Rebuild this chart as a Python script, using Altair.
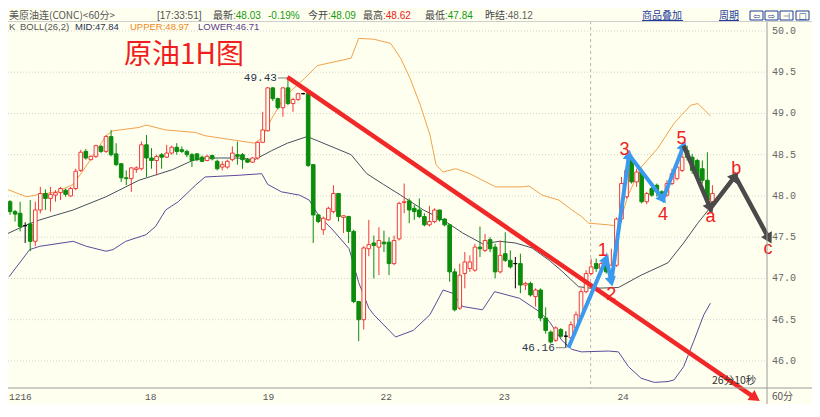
import math
import altair as alt
import pandas as pd

# ---------------- data ----------------
opens = [47.93,47.81,47.79,47.64,47.66,47.45,47.83,48.03,47.97,48.01,
         48.04,48.07,48.00,48.09,48.31,48.54,48.44,48.48,48.60,48.54,
         48.72,48.51,48.39,48.22,48.21,48.32,48.33,48.62,48.46,48.43,
         48.50,48.47,48.52,48.59,48.56,48.54,48.50,48.51,48.47,48.43,
         48.49,48.42,48.35,48.35,48.44,48.50,48.50,48.44,48.41,48.46,
         48.65,48.79,49.31,49.18,49.07,49.31,49.12,49.17,49.24,49.24,
         48.38,47.77,47.59,47.71,47.81,48.03,47.74,47.75,47.57,46.72,
         46.50,47.36,47.43,47.38,47.44,47.44,47.18,47.48,47.92,47.94,
         47.85,47.83,47.75,47.65,47.69,47.83,47.72,47.65,47.08,46.64,
         47.06,47.12,47.10,47.38,47.34,47.47,47.38,47.08,47.30,47.22,
         47.18,47.18,46.92,46.94,46.78,46.86,46.52,46.35,46.25,46.38,
         46.30,46.28,46.40,46.54,46.84,47.06,47.18,47.12,47.16,47.10,
         47.16,47.72,47.99,48.43,48.17,48.29,47.93,48.09,48.13,48.05,
         48.01,48.15,48.21,48.31,48.55,48.47,48.43,48.33,48.19,47.93]
highs = [47.95,47.83,47.93,47.68,47.95,47.93,48.11,48.08,48.11,48.07,
         48.11,48.09,48.11,48.33,48.56,48.57,48.49,48.62,48.62,48.74,
         48.80,48.64,48.40,48.31,48.35,48.36,48.66,48.74,48.58,48.50,
         48.52,48.62,48.61,48.64,48.60,48.56,48.52,48.52,48.49,48.50,
         48.50,48.44,48.42,48.44,48.60,48.66,48.52,48.46,48.47,48.66,
         49.02,49.32,49.32,49.19,49.32,49.43,49.19,49.25,49.25,49.25,
         48.38,47.78,47.75,47.87,48.13,48.03,47.76,47.76,47.59,46.72,
         47.39,47.71,47.52,47.62,47.58,47.50,47.52,47.93,48.15,47.97,
         47.89,47.97,47.79,47.88,47.85,47.83,47.73,47.65,47.12,47.18,
         47.32,47.28,47.42,47.63,47.54,47.50,47.42,47.46,47.56,47.34,
         47.26,47.30,46.96,46.96,46.88,46.88,46.65,46.37,46.42,46.40,
         46.36,46.48,46.60,46.88,47.10,47.24,47.24,47.20,47.20,47.36,
         47.74,48.23,48.35,48.49,48.33,48.33,48.05,48.12,48.15,48.07,
         48.19,48.33,48.37,48.59,48.61,48.51,48.45,48.43,48.53,48.13]
lows = [47.77,47.69,47.57,47.43,47.33,47.39,47.79,47.83,47.81,47.93,
        47.95,47.99,47.99,48.07,48.29,48.44,48.43,48.46,48.52,48.52,
        48.48,48.36,48.17,48.13,48.05,48.28,48.31,48.23,48.33,48.25,
        48.33,48.46,48.50,48.50,48.52,48.47,48.35,48.42,48.41,48.42,
        48.43,48.31,48.31,48.33,48.42,48.38,48.33,48.40,48.40,48.44,
        48.64,48.78,49.15,49.05,48.96,49.10,49.02,49.15,49.23,48.35,
        47.43,47.67,47.53,47.70,47.79,47.69,47.55,47.43,46.70,46.24,
        46.38,47.27,47.00,47.04,47.32,47.04,47.16,47.46,47.79,47.67,
        47.71,47.73,47.63,47.63,47.67,47.69,47.63,46.96,46.60,46.62,
        46.88,47.08,47.08,47.26,47.32,47.32,47.00,47.06,47.20,47.12,
        46.88,46.82,46.86,46.78,46.66,46.48,46.33,46.21,46.23,46.28,
        46.16,46.24,46.36,46.52,46.82,47.04,47.08,47.08,47.06,47.08,
        47.14,47.68,47.97,48.15,48.11,47.91,47.90,47.99,47.99,47.97,
        47.99,48.13,48.19,48.29,48.43,48.27,48.21,48.15,47.93,47.89]
closes = [47.81,47.78,47.63,47.64,47.45,47.83,48.03,47.97,48.02,48.04,
          48.09,48.02,48.09,48.30,48.53,48.46,48.48,48.61,48.54,48.72,
          48.50,48.38,48.22,48.21,48.34,48.34,48.62,48.46,48.43,48.48,
          48.47,48.52,48.59,48.54,48.54,48.50,48.43,48.44,48.42,48.48,
          48.45,48.33,48.38,48.42,48.52,48.48,48.44,48.41,48.46,48.65,
          48.80,49.31,49.18,49.07,49.31,49.12,49.17,49.24,49.24,48.37,
          47.77,47.69,47.73,47.85,48.03,47.75,47.76,47.57,46.72,46.50,
          47.37,47.41,47.40,47.46,47.42,47.18,47.46,47.91,47.93,47.83,
          47.81,47.75,47.65,47.69,47.83,47.71,47.65,47.08,46.62,47.04,
          47.20,47.20,47.38,47.36,47.46,47.36,47.08,47.28,47.22,47.14,
          47.18,46.92,46.94,46.80,46.86,46.52,46.37,46.23,46.40,46.30,
          46.30,46.44,46.56,46.84,47.06,47.14,47.12,47.18,47.08,47.16,
          47.72,48.15,48.31,48.17,48.29,47.93,48.03,48.01,48.05,47.99,
          48.15,48.27,48.35,48.47,48.47,48.31,48.23,48.19,47.95,48.03]

mid_i = [-0.6, 3.3, 5.9, 12.5, 19.0, 25.5, 32.2, 36.1, 38.6, 45.1,
         48.4, 51.8, 54.9, 58.8, 60.8, 67.5, 70.6, 73.9, 77.3, 81.8,
         85.7, 89.6, 93.5, 96.9, 100.0, 103.3, 106.7, 109.2, 112.5, 115.1,
         120.4, 124.9, 130.2, 133.3, 136.1, 138.6]
mid_v = [47.54, 47.65, 47.71, 47.83, 47.99, 48.19, 48.32, 48.43, 48.46, 48.46,
         48.44, 48.55, 48.64, 48.72, 48.67, 48.50, 48.27, 48.14, 48.01, 47.83,
         47.71, 47.55, 47.42, 47.45, 47.43, 47.37, 47.22, 47.09, 46.90, 46.88,
         46.89, 47.04, 47.19, 47.43, 47.67, 47.86]
upper_i = [-0.6, 3.3, 5.9, 9.2, 12.5, 14.5, 17.1, 19.0, 20.4, 25.5,
           26.9, 30.8, 36.7, 38.6, 45.1, 48.4, 49.8, 51.8, 54.3, 58.2,
           60.8, 67.5, 69.0, 72.0, 75.3, 77.3, 79.2, 81.2, 83.1, 84.3,
           85.7, 88.2, 91.0, 93.5, 96.1, 101.4, 102.7, 105.3, 108.6, 111.2,
           113.1, 114.5, 118.4, 119.6, 121.0, 122.4, 124.9, 128.2, 131.4, 134.7,
           136.1, 138.6]
upper_v = [48.08, 47.99, 48.02, 48.05, 48.14, 48.31, 48.55, 48.73, 48.79, 48.83,
           48.86, 48.80, 48.77, 48.73, 48.67, 48.64, 48.70, 48.94, 49.20, 49.42,
           49.58, 49.67, 49.91, 49.90, 49.85, 49.67, 49.42, 49.10, 48.74, 48.38,
           48.29, 48.33, 48.27, 48.19, 48.11, 48.11, 48.12, 48.01, 47.95, 47.83,
           47.75, 47.67, 47.65, 47.64, 47.75, 48.02, 48.35, 48.58, 48.88, 49.10,
           49.12, 48.97]
lower_i = [-0.2, 3.9, 5.9, 12.5, 15.1, 19.0, 20.4, 22.9, 26.9, 28.8,
           30.8, 33.3, 36.7, 38.6, 45.1, 49.8, 51.0, 53.7, 57.3, 59.2,
           61.2, 63.7, 67.1, 69.0, 71.0, 72.0, 76.3, 79.8, 83.1, 85.7,
           87.6, 89.6, 93.5, 95.9, 100.8, 104.7, 106.7, 109.2, 111.2, 113.1,
           118.4, 120.4, 122.4, 124.9, 127.5, 130.2, 131.4, 133.3, 135.3, 137.3,
           138.6]
lower_v = [47.02, 47.35, 47.39, 47.45, 47.39, 47.33, 47.35, 47.45, 47.53, 47.63,
           47.83, 47.93, 48.13, 48.23, 48.25, 48.27, 48.14, 48.05, 48.01, 47.95,
           47.75, 47.60, 47.36, 46.95, 46.64, 46.56, 46.29, 46.37, 46.56, 46.86,
           46.82, 46.66, 46.62, 46.84, 46.76, 46.60, 46.48, 46.25, 46.14, 46.11,
           46.12, 46.11, 45.93, 45.79, 45.74, 45.75, 45.77, 45.93, 46.24, 46.56,
           46.70]

price_ticks = [46.0, 46.5, 47.0, 47.5, 48.0, 48.5, 49.0, 49.5, 50.0]
day_labels = ["1216", "18", "19", "22", "23", "24"]
day_pos = [-0.2, 26.7, 50.0, 73.3, 96.7, 120.2]
session_pos = [114.9]

extreme_text = ["49.43", "46.16"]
extreme_i = [55, 110]
extreme_v = [49.43, 46.16]

trend_i = [54.9, 147.5]
trend_v = [49.44, 45.55]
wave_i = [110.5, 118.0, 119.0, 122.5, 129.2, 133.3]
wave_v = [46.16, 47.24, 46.96, 48.50, 47.96, 48.61]
proj_i = [133.3, 138.6, 143.5, 150.2]
proj_v = [48.61, 47.85, 48.24, 47.48]
wave_names = ["1", "2", "3", "4", "5", "a", "b", "c"]
wave_name_i = [117.3, 119.0, 121.6, 129.2, 132.9, 138.6, 143.7, 150.0]
wave_name_v = [47.33, 46.80, 48.56, 47.77, 48.69, 47.75, 48.33, 47.36]

# ---------------- layout / style ----------------
W, H = 759, 361
PAD = {"left": 0, "top": 19, "right": 45, "bottom": 16}
TOTAL_W = W + PAD["right"]
X_DOM = [-0.4, 149.8]
Y_DOM = [45.672, 50.048]
BG = "#fffff0"
RED = "#f03a3a"
GREEN = "#0c8c0c"
BLUE = "#3a9af0"
DARK = "#4a4a4a"
LINK = "#1f3c9c"
CJK = "Noto Sans CJK SC"
SANS = "Liberation Sans"
MONO = "Liberation Mono"

kx = W / (X_DOM[1] - X_DOM[0])
ky = H / (Y_DOM[1] - Y_DOM[0])

xs = alt.Scale(domain=X_DOM, nice=False, zero=False)
ys = alt.Scale(domain=Y_DOM, nice=False, zero=False)
one = pd.DataFrame({"k": [0]})


def heading(ia, va, ib, vb):
    dx = (ib - ia) * kx
    dy = -(vb - va) * ky
    return (math.degrees(math.atan2(dy, dx)) + 90) % 360


def txt(t, x, y, color, font=CJK, size=10.5, align="left", weight="normal"):
    return alt.Chart(one).mark_text(text=t, font=font, fontSize=size, color=color,
                                    align=align, baseline="middle", fontWeight=weight
                                    ).encode(x=alt.value(x), y=alt.value(y))


def hrule(x1, x2, y, color, width=1.0, dash=None):
    kw = {"strokeDash": dash} if dash else {}
    return alt.Chart(one).mark_rule(color=color, strokeWidth=width, **kw).encode(
        x=alt.value(x1), x2=alt.value(x2), y=alt.value(y))


def vrule(x, y1, y2, color, width=1.0):
    return alt.Chart(one).mark_rule(color=color, strokeWidth=width).encode(
        x=alt.value(x), y=alt.value(y1), y2=alt.value(y2))


candles = pd.DataFrame({"i": list(range(len(opens))), "o": opens, "h": highs,
                        "l": lows, "c": closes})
candles["dir"] = ["up" if c > o else ("down" if c < o else "flat")
                  for o, c in zip(opens, closes)]
dir_dom = ["up", "down", "flat"]

layers = []

# horizontal grid + right-hand price labels
ticks_df = pd.DataFrame({"v": price_ticks, "t": [f"{v:.1f}" for v in price_ticks]})
layers.append(alt.Chart(ticks_df).mark_rule(color="#d2d2d2", strokeDash=[1, 2]).encode(
    x=alt.value(0), x2=alt.value(W), y=alt.Y("v:Q", scale=ys, axis=None)))
layers.append(alt.Chart(ticks_df).mark_text(font=MONO, fontSize=10, color="#666666",
                                            align="left", baseline="middle").encode(
    x=alt.value(W + 5), y=alt.Y("v:Q", scale=ys, axis=None), text="t:N"))

# session divider
layers.append(alt.Chart(pd.DataFrame({"i": session_pos})).mark_rule(
    color="#b4b4b4", strokeDash=[3, 3]).encode(
    x=alt.X("i:Q", scale=xs, axis=None), y=alt.value(-6), y2=alt.value(H)))

# Bollinger bands
for bi, bv, col in [(upper_i, upper_v, "#f2a24a"), (lower_i, lower_v, "#5c4a98"),
                    (mid_i, mid_v, "#46505e")]:
    layers.append(alt.Chart(pd.DataFrame({"i": bi, "v": bv})).mark_line(
        color=col, strokeWidth=1).encode(
        x=alt.X("i:Q", scale=xs, axis=None), y=alt.Y("v:Q", scale=ys, axis=None)))

# candles
layers.append(alt.Chart(candles).mark_rule(strokeWidth=1).encode(
    x=alt.X("i:Q", scale=xs, axis=None),
    y=alt.Y("l:Q", scale=ys, axis=None), y2="h:Q",
    color=alt.Color("dir:N", scale=alt.Scale(domain=dir_dom, range=[RED, GREEN, "#000000"]),
                    legend=None)))
layers.append(alt.Chart(candles).transform_calculate(
    xa="datum.i - 0.36", xb="datum.i + 0.36").mark_rect(strokeWidth=1).encode(
    x=alt.X("xa:Q", scale=xs, axis=None), x2="xb:Q",
    y=alt.Y("o:Q", scale=ys, axis=None), y2="c:Q",
    fill=alt.Fill("dir:N", scale=alt.Scale(domain=dir_dom, range=[BG, GREEN, "#000000"]),
                  legend=None),
    stroke=alt.Stroke("dir:N", scale=alt.Scale(domain=dir_dom, range=[RED, GREEN, "#000000"]),
                      legend=None)))

# extreme price labels with leaders
ext = pd.DataFrame({"t": extreme_text, "i": extreme_i, "v": extreme_v})
ext["ia"] = ext["i"] - 2.0
layers.append(alt.Chart(ext).mark_rule(color="#808080").encode(
    x=alt.X("ia:Q", scale=xs, axis=None), x2="i:Q", y=alt.Y("v:Q", scale=ys, axis=None)))
layers.append(alt.Chart(ext).mark_text(font=MONO, fontSize=11, color="#2a3448",
                                       align="right", baseline="middle", dx=-1).encode(
    x=alt.X("ia:Q", scale=xs, axis=None), y=alt.Y("v:Q", scale=ys, axis=None), text="t:N"))

# trend line (red)
layers.append(alt.Chart(pd.DataFrame({"i": trend_i, "v": trend_v, "s": [0, 1]})).mark_line(
    color="#f02828", strokeWidth=4.5).encode(
    x=alt.X("i:Q", scale=xs, axis=None), y=alt.Y("v:Q", scale=ys, axis=None), order="s:Q"))
layers.append(alt.Chart(pd.DataFrame({"i": [trend_i[1]], "v": [trend_v[1]],
                                      "a": [heading(trend_i[0], trend_v[0], trend_i[1], trend_v[1])]})
                        ).mark_point(shape="triangle-up", filled=True, opacity=1, size=150,
                                     color="#f02828").encode(
    x=alt.X("i:Q", scale=xs, axis=None), y=alt.Y("v:Q", scale=ys, axis=None),
    angle=alt.Angle("a:Q", scale=None)))

# wave paths
for pi, pv, col, sw, hs in [(wave_i, wave_v, BLUE, 4, 130), (proj_i, proj_v, DARK, 4.5, 150)]:
    layers.append(alt.Chart(pd.DataFrame({"i": pi, "v": pv, "s": list(range(len(pi)))})).mark_line(
        color=col, strokeWidth=sw, strokeJoin="miter").encode(
        x=alt.X("i:Q", scale=xs, axis=None), y=alt.Y("v:Q", scale=ys, axis=None), order="s:Q"))
    heads = pd.DataFrame({"i": pi[1:], "v": pv[1:],
                          "a": [heading(pi[k - 1], pv[k - 1], pi[k], pv[k]) for k in range(1, len(pi))]})
    layers.append(alt.Chart(heads).mark_point(shape="triangle-up", filled=True, opacity=1,
                                              size=hs, color=col).encode(
        x=alt.X("i:Q", scale=xs, axis=None), y=alt.Y("v:Q", scale=ys, axis=None),
        angle=alt.Angle("a:Q", scale=None)))

layers.append(alt.Chart(pd.DataFrame({"t": wave_names, "i": wave_name_i, "v": wave_name_v})).mark_text(
    font=SANS, fontSize=18, color="#ee2020", baseline="middle").encode(
    x=alt.X("i:Q", scale=xs, axis=None), y=alt.Y("v:Q", scale=ys, axis=None), text="t:N"))

# x axis line, right axis line, day labels
layers.append(hrule(0, TOTAL_W, H, "#9a9a9a"))
layers.append(vrule(W, -6, H + PAD["bottom"], "#9a9a9a"))
layers.append(alt.Chart(pd.DataFrame({"t": day_labels, "i": day_pos})).mark_text(
    font=MONO, fontSize=9.5, color="#555555", align="left", baseline="middle").encode(
    x=alt.X("i:Q", scale=xs, axis=None), y=alt.value(H + 9), text="t:N"))
layers.append(txt("60分", W + 5, H + 9, "#555555", size=10))
layers.append(txt("26分10秒", 704, H - 7, "#333333", size=10.5))

# title
layers.append(txt("原油1H图", 176, 29, "#f01e1e", size=28, align="center"))

# header row 1
R1 = -11.5
layers.append(hrule(0, TOTAL_W, -5.5, "#cfcfcf"))
layers.append(txt("美原油连(CONC)<60分>", 1, R1, "#555555", size=10))
row1 = [("[17:33:51]", 149, "#555555", SANS), ("最新", 205, "#444444", CJK),
        (":48.03", 225, "#139a13", SANS), ("-0.19%", 260, "#139a13", SANS),
        ("今开", 300, "#444444", CJK), (":48.09", 320, "#139a13", SANS),
        ("最高", 355, "#444444", CJK), (":48.62", 375, "#e82020", SANS),
        ("最低", 417, "#444444", CJK), (":47.84", 437, "#139a13", SANS),
        ("昨结", 477, "#444444", CJK), (":48.12", 497, "#666666", SANS)]
for t, x, c, f in row1:
    layers.append(txt(t, x, R1, c, font=f, size=10))
layers.append(txt("商品叠加", 634, R1, LINK, size=10))
layers.append(hrule(634, 675, -6.5, LINK))
layers.append(txt("周期", 711, R1, LINK, size=10))
layers.append(hrule(711, 731, -6.5, LINK))
for bx, glyph in [(742, "⇦"), (757, "⇨"), (772, "⊣"), (788, "□")]:
    layers.append(alt.Chart(one).mark_rect(fill=BG, stroke=LINK, strokeWidth=1).encode(
        x=alt.value(bx), x2=alt.value(bx + 13), y=alt.value(-16), y2=alt.value(-7)))
    layers.append(txt(glyph, bx + 6.5, -11.5, LINK, font="DejaVu Sans", size=8.5, align="center"))

# header row 2 (indicator legend)
R2 = 0
row2 = [("K", 1, "#555555"), ("BOLL(26,2)", 12, "#555555"), ("MID:47.84", 67, "#2a3350"),
        ("UPPER:48.97", 122, "#f08a20"), ("LOWER:46.71", 190, "#5a3c8c")]
for t, x, c in row2:
    layers.append(txt(t, x, R2, c, font=SANS, size=9.5))

chart = alt.layer(*layers).properties(
    width=W, height=H, padding=PAD,
    autosize=alt.AutoSizeParams(type="none"), background=BG
).configure_view(stroke=None, fill=BG)

chart.save("out.html", embed_options={"renderer": "svg", "actions": False})
